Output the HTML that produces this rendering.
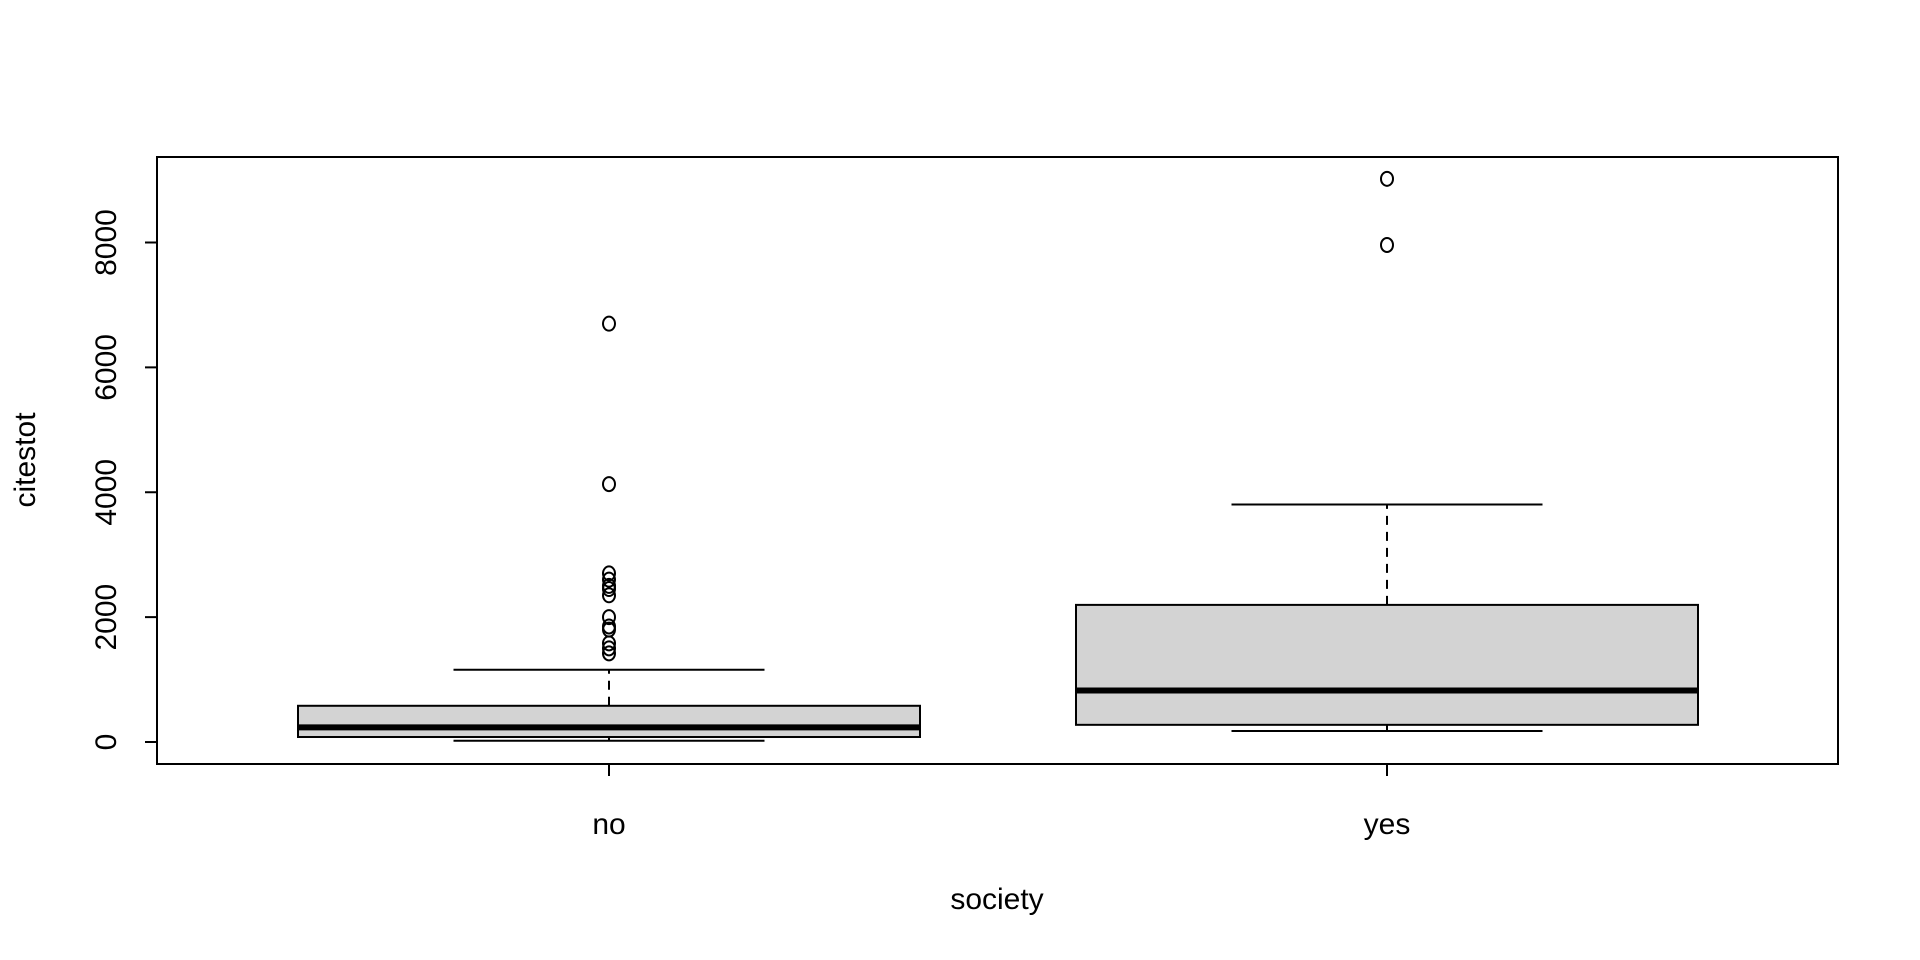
<!DOCTYPE html>
<html><head><meta charset="utf-8"><style>
html,body{margin:0;padding:0;background:#fff;}
svg{display:block;font-family:"Liberation Sans",Arial,sans-serif;}
</style></head><body>
<svg id="chart" width="1920" height="960" viewBox="0 0 1920 960" xmlns="http://www.w3.org/2000/svg"></svg>
<script>
const categories = ["no", "yes"];
const lowerWhisker = [20, 176];
const q1 = [80, 275];
const median = [235, 824];
const q3 = [580, 2196];
const upperWhisker = [1157, 3804];
const outliersNo = [1420, 1500, 1580, 1800, 1850, 2000, 2350, 2450, 2500, 2600, 2700, 4130, 6700];
const outliersYes = [7960, 9020];
const yTicks = [0, 2000, 4000, 6000, 8000];

const NS = "http://www.w3.org/2000/svg";
const svg = document.getElementById("chart");
const L = 157, R = 1838, T = 157, B = 764;
const y0px = 742, yPerUnit = (742 - 242.5) / 8000;
function yScale(v) { return y0px - v * yPerUnit; }
const xPos = [609, 1387];
function xScale(i) { return xPos[0] + i * (xPos[1] - xPos[0]); }
const boxHalf = 311, capHalf = 155.5;
const FS = 30;

function mk(tag, attrs, parent) {
  const e = document.createElementNS(NS, tag);
  for (const k in attrs) e.setAttribute(k, attrs[k]);
  (parent || svg).appendChild(e);
  return e;
}

const frame = mk("rect", {x: L, y: T, width: R - L, height: B - T, fill: "none", stroke: "#000", "stroke-width": 2});



const yAxis = mk("g", {});


yTicks.forEach(v => {
  const y = yScale(v);
  const t = mk("line", {x1: L - 12, x2: L, y1: y, y2: y, stroke: "#000", "stroke-width": 2}, yAxis);
  
  
  const lb = mk("text", {x: 0, y: 0, transform: `translate(116,${y}) rotate(-90)`, "text-anchor": "middle", "font-size": FS}, yAxis);
  lb.textContent = String(v);
  
  
});
const yTitle = mk("text", {transform: "translate(35,460) rotate(-90)", "text-anchor": "middle", "font-size": FS});
yTitle.textContent = "citestot";



categories.forEach((c, i) => {
  const x = xScale(i);
  const t = mk("line", {x1: x, x2: x, y1: B, y2: B + 12, stroke: "#000", "stroke-width": 2});
  
  
  const lb = mk("text", {x: x, y: 834, "text-anchor": "middle", "font-size": FS});
  lb.textContent = c;
  
  
});
const xTitle = mk("text", {x: 997, y: 909, "text-anchor": "middle", "font-size": FS});
xTitle.textContent = "society";



const outs = [outliersNo, outliersYes];
categories.forEach((c, i) => {
  const g = mk("g", {});
  
  
  const x = xScale(i);
  const w1 = mk("line", {x1: x, x2: x, y1: yScale(q3[i]), y2: yScale(upperWhisker[i]), stroke: "#000", "stroke-width": 2, "stroke-dasharray": "9,7"}, g);
  
  
  const w2 = mk("line", {x1: x, x2: x, y1: yScale(q1[i]), y2: yScale(lowerWhisker[i]), stroke: "#000", "stroke-width": 2, "stroke-dasharray": "9,7"}, g);
  
  
  const c1 = mk("line", {x1: x - capHalf, x2: x + capHalf, y1: yScale(upperWhisker[i]), y2: yScale(upperWhisker[i]), stroke: "#000", "stroke-width": 2}, g);
  
  
  const c2 = mk("line", {x1: x - capHalf, x2: x + capHalf, y1: yScale(lowerWhisker[i]), y2: yScale(lowerWhisker[i]), stroke: "#000", "stroke-width": 2}, g);
  
  
  const r = mk("rect", {x: x - boxHalf, y: yScale(q3[i]), width: 2 * boxHalf, height: yScale(q1[i]) - yScale(q3[i]), fill: "#d3d3d3", stroke: "#000", "stroke-width": 2}, g);
  
  
  const m = mk("line", {x1: x - boxHalf, x2: x + boxHalf, y1: yScale(median[i]), y2: yScale(median[i]), stroke: "#000", "stroke-width": 6}, g);
  
  
  outs[i].forEach(v => {
    const o = mk("ellipse", {cx: x, cy: yScale(v), rx: 6, ry: 7, fill: "none", stroke: "#000", "stroke-width": 2}, g);
    
    
  });
});
</script>
</body></html>
